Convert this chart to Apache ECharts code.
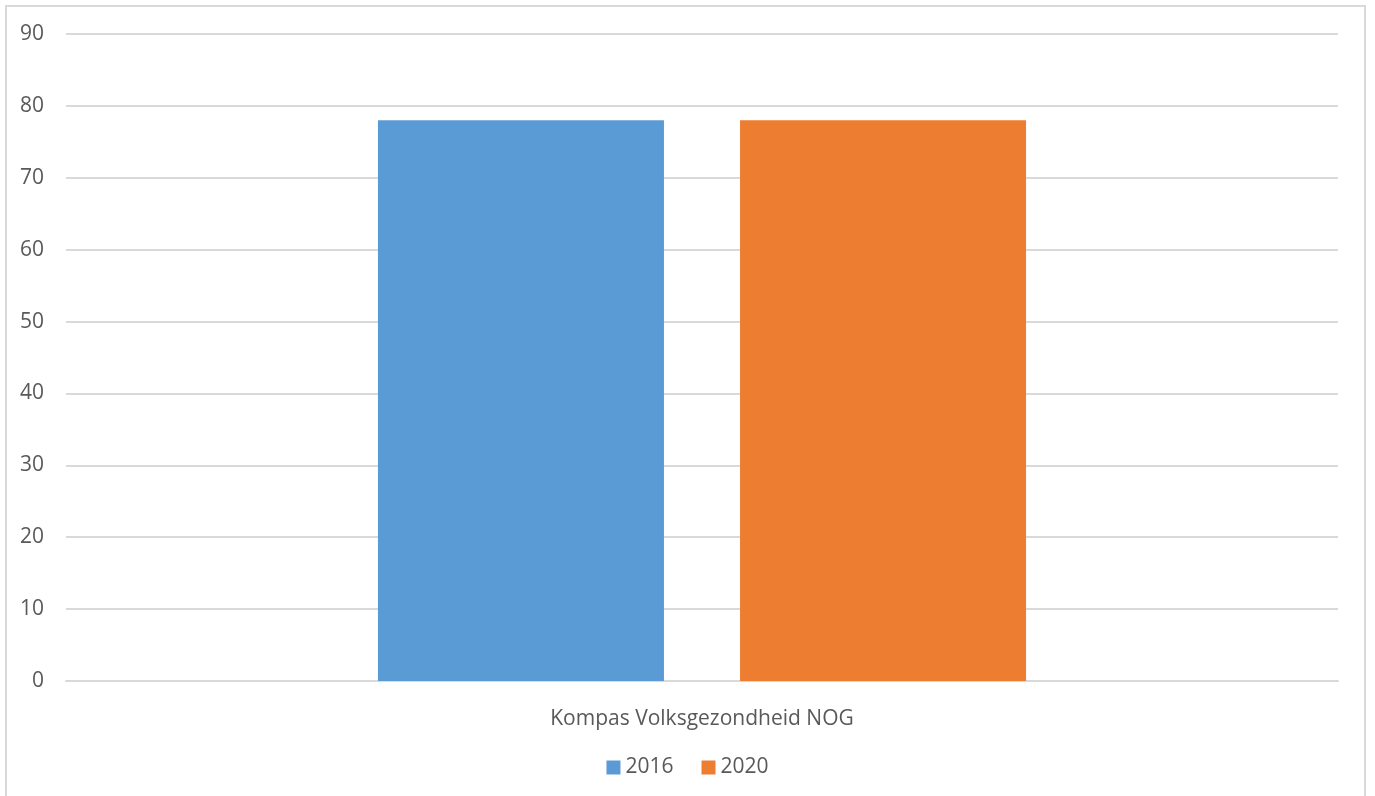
<!DOCTYPE html>
<html>
<head>
<meta charset="utf-8">
<script src="https://cdn.jsdelivr.net/npm/echarts@6/dist/echarts.min.js"></script>
<style>
html,body{margin:0;padding:0;background:#fff;overflow:hidden;}
#frame{position:absolute;left:5px;top:5px;width:1361px;height:820px;border:2px solid #d9d9d9;box-sizing:border-box;}
#chart{position:absolute;left:0;top:0;width:1375px;height:796px;}
</style>
</head>
<body>
<div id="frame"></div>
<div id="chart"></div>
<script>
const categories = ['Kompas Volksgezondheid NOG'];
const seriesNames = ['2016', '2020'];
const values2016 = [78];
const values2020 = [78];
const yTicks = [0, 10, 20, 30, 40, 50, 60, 70, 80, 90];

const chart = echarts.init(document.getElementById('chart'));
const font = '"Open Sans", "Noto Sans", sans-serif';
chart.setOption({
  animation: false,
  textStyle: {fontFamily: font},
  grid: {left: 66, right: 37, top: 34, bottom: 115, containLabel: false},
  legend: {
    data: seriesNames,
    bottom: 13,
    left: 'center',
    itemWidth: 14, itemHeight: 14, itemGap: 28,
    icon: 'rect',
    textStyle: {color: '#595959', fontSize: 21, fontFamily: font}
  },
  xAxis: {
    type: 'category',
    data: categories,
    axisLine: {lineStyle: {color: '#d9d9d9', width: 2}},
    axisTick: {show: false},
    axisLabel: {color: '#595959', fontSize: 21, fontFamily: font, margin: 28}
  },
  yAxis: {
    type: 'value',
    min: yTicks[0], max: yTicks[yTicks.length-1], interval: 10,
    axisLine: {show: false},
    axisTick: {show: false},
    splitLine: {lineStyle: {color: '#d9d9d9', width: 2}},
    axisLabel: {color: '#595959', fontSize: 21, fontFamily: font, margin: 22}
  },
  series: [
    {name: seriesNames[0], type: 'bar', data: values2016, barWidth: 286, barGap: '26.6%', itemStyle: {color: '#5B9BD5'}},
    {name: seriesNames[1], type: 'bar', data: values2020, barWidth: 286, itemStyle: {color: '#ED7D31'}}
  ]
});
</script>
</body>
</html>
